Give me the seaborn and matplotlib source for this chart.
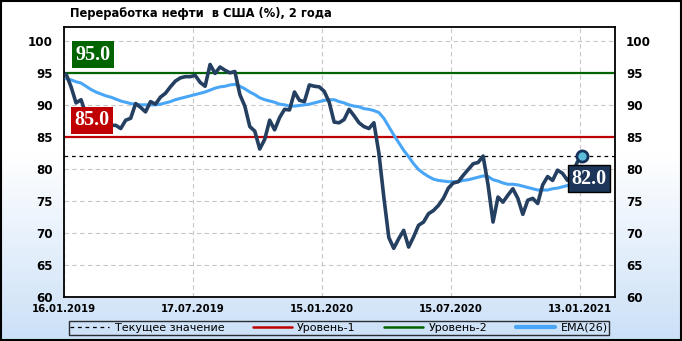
import numpy as np
import pandas as pd
import matplotlib
matplotlib.use("Agg")
import matplotlib.pyplot as plt
from matplotlib.lines import Line2D
from matplotlib.patches import Rectangle
import seaborn as sns

# ---------------- data ----------------
start_date = "2019-01-19"
values = [
    94.8, 92.8, 90.3, 90.8, 88.5, 87.2, 87.8, 86.9, 87.3, 86.8,
    86.8, 86.3, 87.6, 87.9, 90.2, 89.6, 88.9, 90.5, 90.1, 91.2,
    91.8, 92.8, 93.7, 94.2, 94.4, 94.4, 94.6, 93.5, 92.9, 96.3,
    94.9, 95.9, 95.4, 95.0, 95.2, 91.6, 89.8, 86.6, 85.9, 83.1,
    84.6, 87.6, 86.1, 88.0, 89.3, 89.2, 92.0, 90.7, 90.5, 93.1,
    92.9, 92.8, 92.1, 90.4, 87.3, 87.2, 87.7, 89.3, 88.3, 87.2,
    86.6, 86.3, 87.2, 82.5, 75.6, 69.3, 67.6, 69.1, 70.4, 67.8,
    69.4, 71.2, 71.7, 73.0, 73.5, 74.3, 75.4, 77.0, 77.8, 78.0,
    79.0, 79.9, 80.8, 81.0, 82.0, 77.5, 71.7, 75.6, 74.8, 75.9,
    76.9, 75.4, 72.9, 75.1, 75.4, 74.6, 77.5, 78.8, 78.2, 79.8,
    79.3, 78.2, 79.3, 81.1, 82.0,
]
ema26 = [
    94.1, 93.9, 93.6, 93.4, 92.9, 92.4, 92.0, 91.7, 91.4, 91.2,
    90.9, 90.6, 90.4, 90.2, 90.1, 90.0, 90.0, 90.0, 90.0, 90.1,
    90.3, 90.5, 90.8, 91.0, 91.2, 91.4, 91.6, 91.8, 92.0, 92.3,
    92.6, 92.8, 92.9, 93.1, 93.2, 92.9, 92.5, 92.0, 91.6, 91.1,
    90.8, 90.6, 90.4, 90.1, 90.0, 89.8, 89.8, 89.9, 90.0, 90.1,
    90.3, 90.5, 90.7, 90.8, 90.8, 90.5, 90.3, 90.0, 89.8, 89.7,
    89.4, 89.3, 89.1, 88.8, 87.9, 86.6, 85.3, 84.1, 82.9, 81.9,
    80.8, 79.9, 79.3, 78.8, 78.4, 78.2, 78.1, 78.0, 78.0, 78.0,
    78.2, 78.3, 78.5, 78.7, 78.9, 78.8, 78.3, 78.1, 77.8, 77.6,
    77.6, 77.5, 77.3, 77.1, 76.9, 76.7, 76.7, 76.7, 76.9, 77.0,
    77.2, 77.4, 77.6, 77.7, 78.0,
]
level_1 = 85.0
level_2 = 95.0
current_value = 82.0
tick_dates = ["2019-01-16", "2019-07-17", "2020-01-15", "2020-07-15", "2021-01-13"]
tick_labels = ["16.01.2019", "17.07.2019", "15.01.2020", "15.07.2020", "13.01.2021"]
y_ticks = [60, 65, 70, 75, 80, 85, 90, 95, 100]
title = "Переработка нефти  в США (%), 2 года"
legend_labels = ["Текущее значение", "Уровень-1", "Уровень-2", "ЕМА(26)"]

dates = pd.date_range(start_date, periods=len(values), freq="7D")
df = pd.DataFrame({"date": dates, "value": values, "ema": ema26})

# ---------------- style ----------------
sns.set_style("white")
plt.rcParams["font.family"] = ["DejaVu Sans"]
plt.rcParams["text.color"] = "black"
plt.rcParams["xtick.color"] = "black"
plt.rcParams["ytick.color"] = "black"

C_MAIN = "#243f60"
C_EMA = "#49a5f5"
C_RED = "#c00000"
C_GREEN = "#006400"

fig = plt.figure(figsize=(6.82, 3.41), dpi=100)

# background gradient
bg = fig.add_axes([0, 0, 1, 1], zorder=-10)
n = 256
t = np.linspace(0, 1, n)  # 0 = top, 1 = bottom
w = np.clip((t - 0.45) / 0.55, 0, 1)
top_c = np.array([1.0, 1.0, 1.0])
bot_c = np.array([0xcb, 0xe0, 0xf7]) / 255.0
grad = (1 - w)[:, None] * top_c + w[:, None] * bot_c
grad = np.repeat(grad[:, None, :], 4, axis=1)
bg.imshow(grad, aspect="auto", extent=[0, 1, 0, 1])
bg.set_xlim(0, 1)
bg.set_ylim(0, 1)
bg.axis("off")
bg.add_patch(Rectangle((0.001, 0.002), 0.997, 0.995, fill=False, edgecolor="black",
                       linewidth=1.5, transform=bg.transAxes))

L, R, B, T = 64 / 682, 615 / 682, 1 - 297 / 341, 1 - 27 / 341
ax = fig.add_axes([L, B, R - L, T - B])
ax.set_facecolor("white")

tick_pos = pd.to_datetime(tick_dates)
ax.set_xlim(pd.Timestamp("2019-01-16"), pd.Timestamp("2021-03-03"))
ax.set_ylim(60, 102.15)

ax.set_xticks(tick_pos)
ax.set_xticklabels(tick_labels, fontsize=7.3, fontweight="bold")
ax.set_yticks(y_ticks)
ax.set_yticklabels([str(v) for v in y_ticks], fontsize=8.6, fontweight="bold")
ax.tick_params(axis="y", length=0, pad=8, labelleft=True, labelright=True, labelcolor="black")
ax.tick_params(axis="x", length=0, pad=5, labelcolor="black")

ax.grid(True, color="#c8c8c8", linestyle=(0, (4, 3)), linewidth=0.8)
for s in ax.spines.values():
    s.set_color("black")
    s.set_linewidth(1.3)

ax.axhline(level_2, color=C_GREEN, linewidth=1.6, zorder=2)
ax.axhline(level_1, color=C_RED, linewidth=1.6, zorder=2)
ax.axhline(current_value, color="black", linewidth=0.9, linestyle=(0, (3, 3)), zorder=2)

sns.lineplot(data=df, x="date", y="ema", ax=ax, color=C_EMA, linewidth=2.2, zorder=3)
sns.lineplot(data=df, x="date", y="value", ax=ax, color=C_MAIN, linewidth=2.6, zorder=4)
ax.plot(df["date"].iloc[-1], df["value"].iloc[-1], marker="o", markersize=8,
        markerfacecolor="#5cbcd9", markeredgecolor="#16325c", markeredgewidth=2, zorder=5)
ax.set_xlabel("")
ax.set_ylabel("")

lab_font = dict(family="Liberation Serif", fontweight="bold", fontsize=14.5, color="white")
ax.text(0.0526, 0.897, f"{level_2:.1f}", transform=ax.transAxes, ha="center", va="center",
        bbox=dict(boxstyle="square,pad=0.17", facecolor=C_GREEN, edgecolor="none"), zorder=6, **lab_font)
ax.text(0.0508, 0.654, f"{level_1:.1f}", transform=ax.transAxes, ha="center", va="center",
        bbox=dict(boxstyle="square,pad=0.17", facecolor=C_RED, edgecolor="none"), zorder=6, **lab_font)
ax.text(0.952, 0.438, f"{current_value:.1f}", transform=ax.transAxes, ha="center", va="center",
        bbox=dict(boxstyle="square,pad=0.17", facecolor="#1c3558", edgecolor="black", linewidth=1), zorder=6, **lab_font)

fig.text(70 / 682, 1 - 14 / 341, title, ha="left", va="center", fontsize=8.3, fontweight="bold",
         color="black")

handles = [
    Line2D([], [], color="black", linewidth=0.9, linestyle=(0, (3, 3))),
    Line2D([], [], color=C_RED, linewidth=1.8),
    Line2D([], [], color=C_GREEN, linewidth=1.8),
    Line2D([], [], color=C_EMA, linewidth=3),
]
leg = fig.legend(handles, legend_labels, ncol=4, mode="expand",
                 bbox_to_anchor=(63 / 682, 1 - 335 / 341, (615 - 63) / 682, 14 / 341),
                 loc="center", fontsize=8, frameon=True, fancybox=False,
                 handlelength=3.5, handletextpad=0.5, borderpad=0.15, columnspacing=1.0)
for txt in leg.get_texts():
    txt.set_color("black")
leg.get_frame().set_facecolor("none")
leg.get_frame().set_edgecolor("black")
leg.get_frame().set_linewidth(1.0)

fig.savefig("out.png", dpi=100)
